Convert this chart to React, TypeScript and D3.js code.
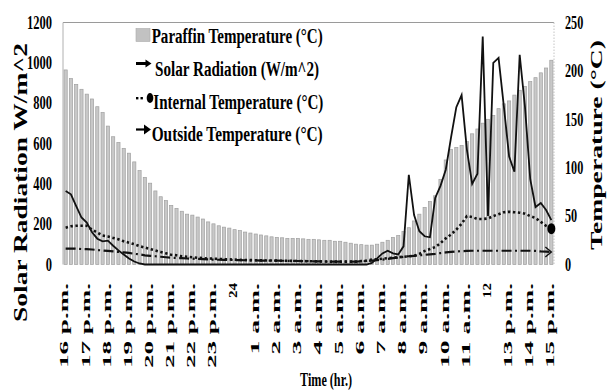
import * as d3 from 'd3';

// x tick labels, one every 4 quarter-hour categories
const tickLabels = [
  '16 p.m.', '17 p.m.', '18 p.m.', '19 p.m.', '20 p.m.', '21 p.m.', '22 p.m.', '23 p.m.',
  '24', '1 a.m.', '2 a.m.', '3 a.m.', '4 a.m.', '5 a.m.', '6 a.m.', '7 a.m.', '8 a.m.',
  '9 a.m.', '10 a.m.', '11 a.m.', '12', '13 p.m.', '14 p.m.', '15 p.m.',
];

// Paraffin temperature (°C, right axis)
const paraffin = [
  201, 192, 186, 181, 176, 171, 163, 157, 143, 132,
  126, 120, 115, 106, 97, 90, 84, 76, 70, 66,
  61, 58, 55, 52, 51, 49, 47, 44, 42, 40,
  38.6, 37.6, 36, 35, 33.5, 32.5, 31.5, 30.5, 29.6, 28.6,
  28, 27.6, 27, 27, 27, 26.5, 26, 26, 25.5, 25,
  25, 24, 24, 23, 22, 21, 20.5, 20, 20, 21,
  23, 25, 28, 30, 34, 38, 45, 52, 59, 65,
  71, 88, 108, 119, 121, 123, 127, 135, 140, 146,
  150, 154, 161, 166, 169, 175, 180, 184, 189, 193,
  198, 203, 211,
];

// Solar radiation (W/m^2, left axis)
const solar = [
  364, 348, 290, 233, 208, 160, 128, 115, 118, 93,
  70, 50, 30, 15, 5, 0, 0, 0, 0, 0,
  0, 0, 0, 0, 0, 0, 0, 0, 0, 0,
  0, 0, 0, 0, 0, 0, 0, 0, 0, 0,
  0, 0, 0, 0, 0, 0, 0, 0, 0, 0,
  0, 0, 0, 0, 0, 0, 0, 0, 8, 30,
  55, 68, 55, 50, 90, 445, 245, 165, 140, 135,
  330, 390, 470, 630, 780, 840, 570, 400, 450, 1130,
  241, 1000, 1025, 784, 535, 460, 1040, 783, 423, 285,
  305, 270, 220,
];

// Internal temperature (°C, right axis)
const internalTemp = [
  38, 39.5, 40, 40, 40, 36, 33, 30, 29, 27.5,
  26, 24, 22.5, 21, 19, 17.5, 16, 14.5, 13, 11.5,
  10, 9.5, 8.5, 8, 7.5, 7, 6.5, 6.2, 6, 5.8,
  5.5, 5.3, 5, 4.8, 4.6, 4.5, 4.4, 4.3, 4.2, 4.1,
  4, 3.9, 3.8, 3.7, 3.6, 3.5, 3.4, 3.3, 3.2, 3.1,
  3, 3, 3, 3, 3, 3, 3.5, 4, 5, 5.5,
  6, 6.5, 7, 7.5, 8, 8.5, 9, 11, 14, 16,
  18, 22, 27, 31, 36, 42, 50, 49, 47, 47,
  47.5, 50, 52, 54, 54.5, 54, 53.5, 52.5, 50, 48,
  44, 40, 37,
];

// Outside temperature (°C, right axis)
const outsideTemp = [
  16.5, 16.5, 16.3, 16, 15.8, 15.5, 15, 14.5, 14, 13.5,
  13, 12.5, 12, 11, 10.5, 9.5, 9, 8.5, 8, 7.5,
  7, 6.8, 6.5, 6.2, 6, 5.8, 5.5, 5.3, 5, 4.9,
  4.8, 4.7, 4.6, 4.5, 4.4, 4.3, 4.2, 4.1, 4, 4,
  4, 3.9, 3.8, 3.7, 3.6, 3.5, 3.4, 3.3, 3.2, 3.1,
  3, 3, 3, 3, 3, 3, 3.2, 3.5, 4, 4.5,
  5, 5.8, 6.5, 7.2, 8, 8.5, 9, 9.5, 10, 10.5,
  11, 11.8, 12.5, 13, 13.5, 13.8, 14, 14.2, 14.2, 14.2,
  14.2, 14.2, 14.2, 14.2, 14.2, 14.2, 14.2, 14.2, 14.2, 14,
  13.5, 13.2, 13,
];

const leftTicks = [0, 200, 400, 600, 800, 1000, 1200];
const rightTicks = [0, 50, 100, 150, 200, 250];

const legendItems = [
  'Paraffin Temperature (°C)',
  'Solar Radiation (W/m^2)',
  'Internal Temperature (°C)',
  'Outside  Temperature (°C)',
];

const W = 608;
const H = 392;
const left = 63;
const right = 554;
const top = 22.5;
const bottom = 264.5;
const font = '"Liberation Serif", "Times New Roman", serif';

export default function App() {
  const categories = paraffin.map((_, i) => i);

  const x = d3.scaleBand<number>().domain(categories).range([left, right]).paddingInner(0.4).paddingOuter(0.2);
  const yLeft = d3.scaleLinear().domain([0, 1200]).range([bottom, top]);
  const yRight = d3.scaleLinear().domain([0, 250]).range([bottom, top]);
  const cx = (i: number) => (x(i) as number) + x.bandwidth() / 2;

  const solarLine = d3.line<number>().x((_, i) => cx(i)).y((d) => yLeft(d));
  const tempLine = d3.line<number>().x((_, i) => cx(i)).y((d) => yRight(d));

  const last = categories.length - 1;
  const outEndX = cx(last);
  const outEndY = yRight(outsideTemp[last]);

  // rotated tick label lengths (the picture is stretched along the text)
  const labelLen = (s: string) => (s.includes('.') ? s.split(' ')[0].length * 13.5 + 58 : 15);

  return (
    <svg width={W} height={H} style={{ position: 'absolute', left: 0, top: 0, background: '#fff' }} fontFamily={font}>
      {/* frame */}
      <line x1={left} x2={right} y1={top} y2={top} stroke="#9a9a9a" strokeWidth={1.2} />
      <line x1={left} x2={left} y1={top} y2={bottom} stroke="#b0b0b0" strokeWidth={1} />
      <line x1={right} x2={right} y1={top} y2={bottom} stroke="#c4c4c4" strokeWidth={1} strokeDasharray="1.5,1.5" />

      {/* paraffin bars */}
      {paraffin.map((d, i) => (
        <rect
          key={i}
          x={x(i)}
          y={yRight(d)}
          width={x.bandwidth()}
          height={bottom - yRight(d)}
          fill="#c8c8c8"
          stroke="#a0a0a0"
          strokeWidth={0.7}
        />
      ))}

      {/* outside temperature */}
      <path d={tempLine(outsideTemp) ?? ''} fill="none" stroke="#111" strokeWidth={2.2} strokeDasharray="10,3.5,2,3.5" />
      <path
        d={`M${outEndX - 6},${outEndY - 5}L${outEndX},${outEndY}L${outEndX - 6},${outEndY + 5}`}
        fill="none"
        stroke="#111"
        strokeWidth={1.4}
      />

      {/* internal temperature */}
      <path d={tempLine(internalTemp) ?? ''} fill="none" stroke="#111" strokeWidth={2.6} strokeDasharray="2.4,2.6" />

      {/* solar radiation */}
      <path d={solarLine(solar) ?? ''} fill="none" stroke="#111" strokeWidth={1.8} strokeLinejoin="miter" />

      <ellipse cx={cx(last)} cy={yRight(internalTemp[last])} rx={4} ry={5.5} fill="#000" />

      {/* left axis labels */}
      {leftTicks.map((t) => (
        <text
          key={t}
          x={52}
          y={yLeft(t) + 6.3}
          textAnchor="end"
          fontSize={18}
          fontWeight="bold"
          textLength={String(t).length * 6.25}
          lengthAdjust="spacingAndGlyphs"
        >
          {t}
        </text>
      ))}

      {/* right axis labels */}
      {rightTicks.map((t) => (
        <text
          key={t}
          x={565}
          y={yRight(t) + 6.3}
          fontSize={18}
          fontWeight="bold"
          textLength={String(t).length * 6.1}
          lengthAdjust="spacingAndGlyphs"
        >
          {t}
        </text>
      ))}

      {/* x tick labels */}
      {tickLabels.map((s, k) => (
        <text
          key={s}
          transform={`translate(${cx(k * 4) - 1.5},283) rotate(-90)`}
          textAnchor="end"
          dy="0.33em"
          fontSize={13}
          fontWeight="bold"
          textLength={labelLen(s)}
          lengthAdjust="spacingAndGlyphs"
        >
          {s}
        </text>
      ))}

      {/* axis titles */}
      <text
        transform="translate(27,322) rotate(-90)"
        fontSize={18}
        fontWeight="bold"
        textLength={279}
        lengthAdjust="spacingAndGlyphs"
      >
        Solar Radiation W/m^2
      </text>
      <text
        transform="translate(602,250) rotate(-90)"
        fontSize={17}
        fontWeight="bold"
        textLength={210}
        lengthAdjust="spacingAndGlyphs"
      >
        Temperature (°C)
      </text>
      <text x={300} y={386} fontSize={19} fontWeight="bold" textLength={52} lengthAdjust="spacingAndGlyphs">
        Time (hr.)
      </text>

      {/* legend */}
      <rect x={136} y={28.5} width={14} height={13} fill="#c2c2c2" stroke="#aaa" strokeWidth={0.6} />
      <line x1={136} x2={147} y1={63.5} y2={63.5} stroke="#000" strokeWidth={3} />
      <path d="M145.5,59.5L151.5,63.5L145.5,67.5Z" fill="#000" />
      <rect x={136} y={97} width={2.4} height={2.4} fill="#000" />
      <rect x={140.5} y={97} width={2.4} height={2.4} fill="#000" />
      <ellipse cx={150} cy={98} rx={3.3} ry={5} fill="#000" />
      <line x1={136} x2={145} y1={129.5} y2={129.5} stroke="#000" strokeWidth={2.2} />
      <path d="M144,124.5L151,129.5L144,134.5Z" fill="#000" />

      {[
        { x: 151.7, y: 43.3, len: 171 },
        { x: 155, y: 76, len: 164 },
        { x: 153.3, y: 108.5, len: 170 },
        { x: 151.7, y: 140.5, len: 171 },
      ].map((p, i) => (
        <text
          key={i}
          x={p.x}
          y={p.y}
          fontSize={20}
          fontWeight="bold"
          textLength={p.len}
          lengthAdjust="spacingAndGlyphs"
        >
          {legendItems[i]}
        </text>
      ))}
    </svg>
  );
}
